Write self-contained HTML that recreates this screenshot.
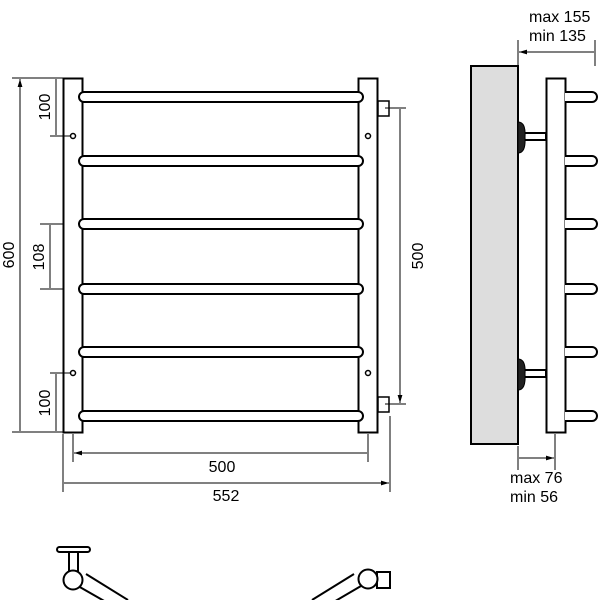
<!DOCTYPE html>
<html><head><style>body{margin:0;background:#fff}svg{display:block}</style></head><body>
<svg width="600" height="600" viewBox="0 0 600 600" xmlns="http://www.w3.org/2000/svg" font-family="Liberation Sans, sans-serif" font-size="16" fill="none" stroke="#000">
<defs>
<marker id="a" viewBox="0 0 10 10" refX="10" refY="5" markerWidth="8" markerHeight="8" orient="auto-start-reverse"><path d="M0,2L10,5L0,8z" fill="#000" stroke="none"/></marker>
</defs>
<rect x="63.5" y="78.5" width="19" height="354" stroke-width="2"/>
<rect x="358.5" y="78.5" width="19" height="354" stroke-width="2"/>
<g stroke-width="2" fill="#fff">
<rect x="79" y="92" width="284" height="10" rx="5"/>
<rect x="79" y="156" width="284" height="10" rx="5"/>
<rect x="79" y="219" width="284" height="10" rx="5"/>
<rect x="79" y="284" width="284" height="10" rx="5"/>
<rect x="79" y="347" width="284" height="10" rx="5"/>
<rect x="79" y="411" width="284" height="10" rx="5"/>
</g>
<g stroke-width="1.5">
<circle cx="73" cy="136" r="2.5"/><circle cx="73" cy="373" r="2.5"/>
<circle cx="368" cy="136" r="2.5"/><circle cx="368" cy="373" r="2.5"/>
<rect x="378" y="101" width="11" height="15"/><rect x="378" y="397" width="11" height="15"/>
</g>
<g stroke-width="1">
<path d="M12 78H63M12 432H63M50 136H70M40 224H63M50 373H70M40 289H63M385 108H406M385 404H406"/>
<path d="M20 79V431M56 79V135M50 225V288M56 374V431M400 109V403" marker-start="url(#a)" marker-end="url(#a)"/>
<path d="M73 434V462M368 434V462M63 434V492M390 416V492"/>
<path d="M74 453H367M64 483H389" marker-start="url(#a)" marker-end="url(#a)"/>
<path d="M518 40V66M595 40V66M518 446V470M555 434V470"/>
<path d="M519 52H594M519 458H554" marker-start="url(#a)" marker-end="url(#a)"/>
</g>
<g fill="#000" stroke="none">
<text x="222" y="472" text-anchor="middle">500</text>
<text x="226" y="501" text-anchor="middle">552</text>
<text transform="translate(14,255) rotate(-90)" text-anchor="middle">600</text>
<text transform="translate(50,107) rotate(-90)" text-anchor="middle">100</text>
<text transform="translate(44,257) rotate(-90)" text-anchor="middle">108</text>
<text transform="translate(50,403) rotate(-90)" text-anchor="middle">100</text>
<text transform="translate(423,256) rotate(-90)" text-anchor="middle">500</text>
<text x="529" y="22">max 155</text>
<text x="529" y="41">min 135</text>
<text x="510" y="483">max 76</text>
<text x="510" y="502">min 56</text>
</g>
<rect x="471" y="66" width="47" height="378" fill="#ddd" stroke-width="2"/>
<rect x="546.5" y="78.5" width="19" height="354" stroke-width="2"/>
<g stroke-width="2" fill="#fff">
<path d="M565 92H592a5 5 0 0 1 0 10H565"/>
<path d="M565 156H592a5 5 0 0 1 0 10H565"/>
<path d="M565 219H592a5 5 0 0 1 0 10H565"/>
<path d="M565 284H592a5 5 0 0 1 0 10H565"/>
<path d="M565 347H592a5 5 0 0 1 0 10H565"/>
<path d="M565 411H592a5 5 0 0 1 0 10H565"/>
<rect x="524" y="133" width="22" height="7"/>
<rect x="524" y="370" width="22" height="7"/>
</g>
<path d="M518 122Q526 122 525 137Q526 153 518 153Z" fill="#222"/>
<path d="M518 359Q526 359 525 374Q526 390 518 390Z" fill="#222"/>
<g stroke-width="2" fill="#fff">
<path d="M78 586L120 610M86 574L128 600"/>
<path d="M361 586L320 610M354 574L312 600"/>
<rect x="57" y="547" width="33" height="5" rx="2.5"/>
<rect x="69" y="552" width="9" height="20"/>
<circle cx="73" cy="580" r="9.5"/>
<rect x="377" y="572" width="13" height="16"/>
<circle cx="368" cy="579" r="9.5"/>
</g>
</svg>
</body></html>
